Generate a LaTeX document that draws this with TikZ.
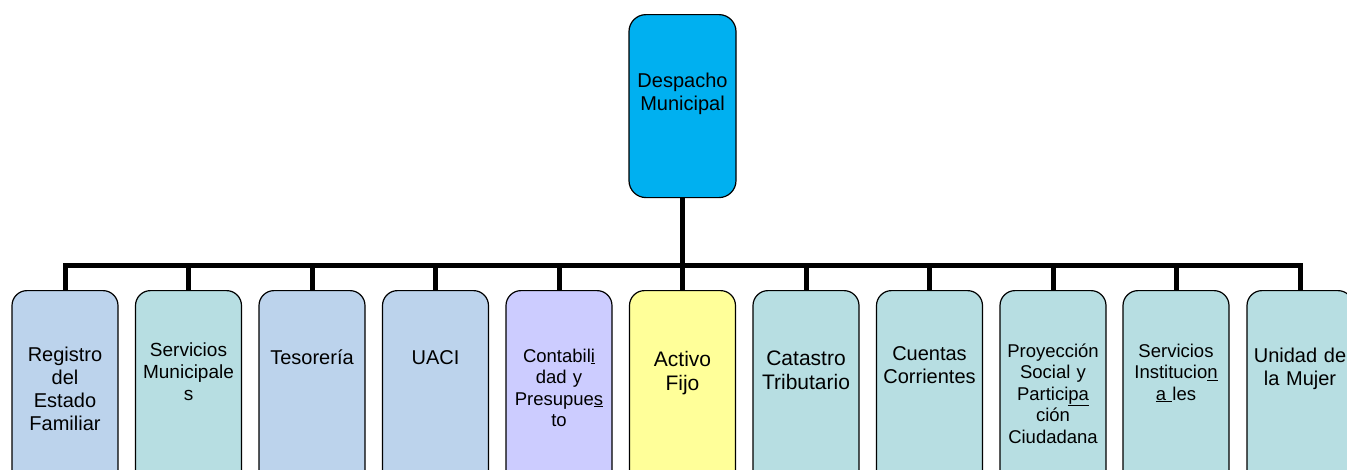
\documentclass[tikz,border=0pt]{standalone}
\usepackage{fontspec}
\setmainfont{Liberation Sans}
\definecolor{despacho}{HTML}{00B0F0}
\definecolor{azul}{HTML}{BCD3EC}
\definecolor{celeste}{HTML}{B7DEE2}
\definecolor{lila}{HTML}{CCCCFF}
\definecolor{amarillo}{HTML}{FFFF99}

\begin{document}
\begin{tikzpicture}[x=1pt,y=-1pt,
    unidad/.style={draw,line width=1.2pt,rounded corners=15pt,minimum width=106pt,
        minimum height=200pt,anchor=north,inner sep=0pt},
    etiqueta/.style args={#1/#2}{anchor=base,text width=112pt,align=center,inner sep=0pt,
        font=\fontsize{#1}{#2}\selectfont},
    enlace/.style={line width=5pt}]
    \useasboundingbox (0,0) rectangle (1347,469);

    \node [unidad,fill=despacho,minimum width=107pt,minimum height=183pt,rounded corners=17pt]
        (desp) at (682.5,14) {};
    \node [etiqueta=20/23.5] (desp-t) at (682.5,87.3) {Despacho\\Municipal};

    \node [unidad,fill=azul]     (reg)  at (65,290)   {};
    \node [unidad,fill=celeste]  (smun) at (188.5,290) {};
    \node [unidad,fill=azul]     (tes)  at (312,290)  {};
    \node [unidad,fill=azul]     (uaci) at (435.5,290) {};
    \node [unidad,fill=lila]     (cont) at (559,290)  {};
    \node [unidad,fill=amarillo] (act)  at (682.5,290) {};
    \node [unidad,fill=celeste]  (cat)  at (806,290)  {};
    \node [unidad,fill=celeste]  (cue)  at (929.5,290) {};
    \node [unidad,fill=celeste]  (proy) at (1053,290) {};
    \node [unidad,fill=celeste]  (sins) at (1176,290) {};
    \node [unidad,fill=celeste]  (muj)  at (1300,290) {};

    \node [etiqueta=20/23]     (reg-t)  at (65,361)    {Registro\\del\\Estado\\Familiar};
    \node [etiqueta=19/21.7]   (smun-t) at (188.5,356.7) {Servicios\\Municipale\\s};
    \node [etiqueta=20/23]     (tes-t)  at (312,364)   {Tesorería};
    \node [etiqueta=20/23]     (uaci-t) at (435.5,364) {UACI};
    \node [etiqueta=18.5/21.5] (cont-t) at (559,362)
        {Contabil\underline{i}\\dad y\\Presupue\underline{s}\\to};
    \node [etiqueta=21/24]     (act-t)  at (682.5,366) {Activo\\Fijo};
    \node [etiqueta=21/24.5]   (cat-t)  at (806,365)   {Catastro\\Tributario};
    \node [etiqueta=20/23]     (cue-t)  at (929.5,360) {Cuentas\\Corrientes};
    \node [etiqueta=18.5/21.5] (proy-t) at (1053,357)
        {Proyección\\Social y\\Partici\underline{pa}\\ción\\Ciudadana};
    \node [etiqueta=18.5/21.5] (sins-t) at (1176,357)
        {Servicios\\Institucio\underline{n}\\\underline{a\ }les};
    \node [etiqueta=20/23]     (muj-t)  at (1300,362)  {Unidad de\\la Mujer};

    \coordinate (bus) at (682.5,265);
    \foreach \u in {reg,smun,tes,uaci,cont,act,cat,cue,proy,sins,muj}
        \draw [enlace] (desp.south) -- (bus) -| (\u.north);
\end{tikzpicture}
\end{document}
